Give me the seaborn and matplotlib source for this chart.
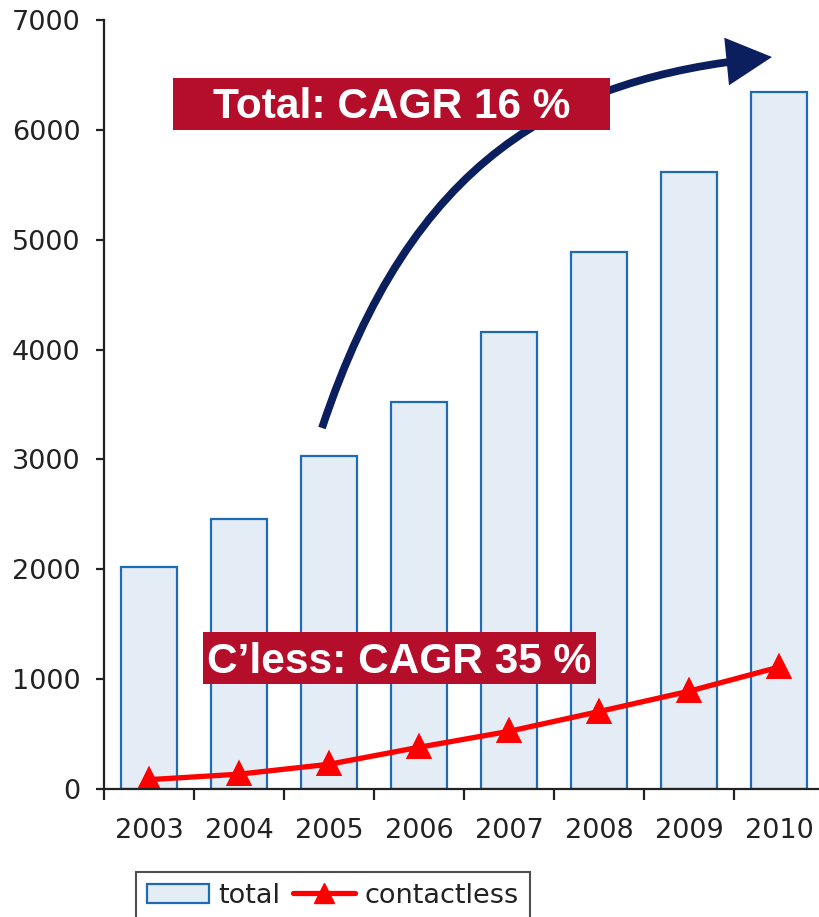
import matplotlib
matplotlib.use("Agg")
import matplotlib.pyplot as plt
import seaborn as sns
import pandas as pd
from matplotlib.patches import Patch, Rectangle, FancyArrowPatch
from matplotlib.lines import Line2D
from matplotlib.path import Path

years = ["2003", "2004", "2005", "2006", "2007", "2008", "2009", "2010"]
total = [2020, 2460, 3030, 3520, 4160, 4890, 5620, 6345]
contactless = [85, 135, 225, 380, 525, 705, 890, 1110]
yticks = [0, 1000, 2000, 3000, 4000, 5000, 6000, 7000]

sns.set_theme(style="white")
plt.rcParams["font.family"] = ["DejaVu Sans"]

W, H = 820, 917
fig = plt.figure(figsize=(W / 100, H / 100), dpi=100)
ax = fig.add_axes([104 / W, 1 - 789 / H, 720 / W, (789 - 20) / H])

df = pd.DataFrame({"year": years, "total": total, "contactless": contactless})
sns.barplot(data=df, x="year", y="total", order=years, ax=ax,
            color="#E4EDF6", edgecolor="#1F6AB4", linewidth=1.6,
            width=0.63, saturation=1)
sns.pointplot(data=df, x="year", y="contactless", order=years, ax=ax,
              color="#FF0000", markers="^", linestyles="-",
              markersize=15, linewidth=3.8)

ax.set_xlim(-0.5, 7.5)
ax.set_ylim(0, 7000)
ax.set_yticks(yticks)
ax.set_xlabel("")
ax.set_ylabel("")
for s in ["top", "right"]:
    ax.spines[s].set_visible(False)
for s in ["left", "bottom"]:
    ax.spines[s].set_color("#222222")
    ax.spines[s].set_linewidth(1.6)

ax.tick_params(axis="y", which="major", direction="out", length=6, width=1.6,
               color="#222222", labelsize=19.5, pad=11, left=True,
               labelcolor="#222222")
ax.tick_params(axis="x", which="major", length=0, labelsize=19.5, pad=21,
               labelcolor="#222222")
ax.set_xticks([i - 0.5 for i in range(8)], minor=True)
ax.tick_params(axis="x", which="minor", direction="out", length=8, width=1.6,
               color="#222222", bottom=True)

# Annotation boxes
red = "#B40E2B"
bold_fam = ["Liberation Sans", "DejaVu Sans"]
fig.patches.append(Rectangle((173 / W, 1 - 130 / H), (610 - 173) / W, 52 / H,
                             transform=fig.transFigure, facecolor=red,
                             edgecolor="none", zorder=5))
fig.text(391.5 / W, 1 - 107 / H, "Total: CAGR 16 %", color="white",
         fontsize=30.5, fontweight="bold", family=bold_fam,
         ha="center", va="center", zorder=6)

fig.patches.append(Rectangle((203 / W, 1 - 684 / H), (596 - 203) / W, 52 / H,
                             transform=fig.transFigure, facecolor=red,
                             edgecolor="none", zorder=5))
fig.text(399.5 / W, 1 - 662 / H, "C\u2019less: CAGR 35 %", color="white",
         fontsize=30.5, fontweight="bold", family=bold_fam,
         ha="center", va="center", zorder=6)

# Curved arrow
def fc(x, y):
    return (x / W, 1 - y / H)

verts = [fc(322, 428), fc(412, 158), fc(560, 78), fc(772, 57)]
codes = [Path.MOVETO, Path.CURVE4, Path.CURVE4, Path.CURVE4]
arrow = FancyArrowPatch(path=Path(verts, codes), transform=fig.transFigure,
                        arrowstyle="-|>,head_length=0.4,head_width=0.21",
                        mutation_scale=60, color="#0B1F5E", linewidth=5.6,
                        joinstyle="miter", capstyle="butt",
                        shrinkA=0, shrinkB=0, zorder=4)
fig.patches.append(arrow)

# Legend
handles = [
    Patch(facecolor="#E4EDF6", edgecolor="#1F6AB4", linewidth=1.6, label="total"),
    Line2D([], [], color="#FF0000", marker="^", markersize=15, linewidth=3.8,
           label="contactless"),
]
leg = fig.legend(handles=handles, loc="upper left",
                 bbox_to_anchor=(136 / W, 1 - 872 / H), ncol=2,
                 fontsize=19.5, frameon=True, fancybox=False,
                 handlelength=2.3, handletextpad=0.35, columnspacing=0.45,
                 borderpad=0.4, borderaxespad=0)
leg.get_frame().set_edgecolor("#222222")
leg.get_frame().set_linewidth(1.5)
for t in leg.get_texts():
    t.set_color("#222222")

fig.savefig("out.png", dpi=100)
